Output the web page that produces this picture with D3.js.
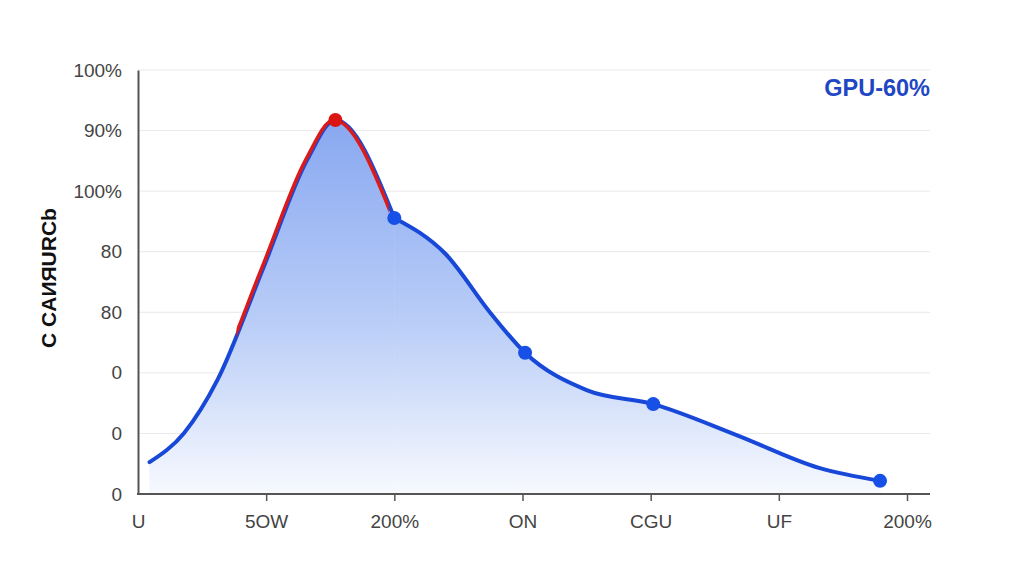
<!DOCTYPE html>
<html>
<head>
<meta charset="utf-8">
<script src="https://cdn.jsdelivr.net/npm/d3@7"></script>
<style>
  html, body { margin: 0; padding: 0; background: #fff; }
  #chart { width: 1024px; height: 585px; }
  text { font-family: "Liberation Sans", Arial, sans-serif; }
</style>
</head>
<body>
<div id="chart"></div>
<script>
// values (x in category steps, y in 0-100 axis units)
const xLabels = ["U", "5OW", "200%", "ON", "CGU", "UF", "200%"];
const yLabels = ["0", "0", "0", "80", "80", "100%", "90%", "100%"];
const curveX = [0.09, 0.36, 0.62, 0.98, 1.32, 1.54, 2.0, 2.4, 2.75, 3.02, 3.5, 4.02, 4.67, 5.32, 5.79];
const curveY = [7.5, 14.4, 26.9, 53.5, 78.8, 88.2, 65.1, 56.6, 42.7, 33.3, 24.5, 21.2, 13.9, 6.1, 3.1];
const markerIdx = [6, 9, 11, 14];
const peakIdx = 5;
const breakIdx = 6; // curve has a corner at this marker
const highlightRange = [0.78, 2.0];
const yTitle = "C CAИЯURCb";
const badge = "GPU-60%";

function draw() {
  d3.select("#chart").selectAll("*").remove();
  const W = 1024, H = 585;
  const m = { left: 138, right: 94, top: 70, bottom: 91 };

  const svg = d3.select("#chart").append("svg")
    .attr("width", W).attr("height", H);

  const x = d3.scaleLinear().domain([0, 6]).range([m.left, 907]);
  const y = d3.scaleLinear().domain([0, 100]).range([H - m.bottom, m.top]);

  const pts = curveX.map((v, i) => ({ x: v, y: curveY[i] }));
  const partA = pts.slice(0, breakIdx + 1);
  const partB = pts.slice(breakIdx);

  const defs = svg.append("defs");
  const grad = defs.append("linearGradient")
    .attr("id", "fillGrad").attr("x1", 0).attr("x2", 0)
    .attr("gradientUnits", "userSpaceOnUse")
    .attr("y1", y(90)).attr("y2", y(0));
  grad.append("stop").attr("offset", "0%").attr("stop-color", "#86a6f0");
  grad.append("stop").attr("offset", "55%").attr("stop-color", "#b9cdf7");
  grad.append("stop").attr("offset", "100%").attr("stop-color", "#f7f9fe");

  defs.append("clipPath").attr("id", "redClip")
    .append("rect")
    .attr("x", x(highlightRange[0])).attr("y", 0)
    .attr("width", x(highlightRange[1]) - x(highlightRange[0]) - 4)
    .attr("height", H);

  // gridlines
  const yTicks = d3.range(yLabels.length).map(i => i * 100 / (yLabels.length - 1));
  svg.append("g").selectAll("line")
    .data(yTicks)
    .join("line")
    .attr("x1", m.left).attr("x2", 930)
    .attr("y1", d => y(d)).attr("y2", d => y(d))
    .attr("stroke", "#e9e9e9").attr("stroke-width", 1);

  const curve = d3.curveMonotoneX;

  // area (two pieces so the corner at the break marker stays)
  const area = d3.area().curve(curve)
    .x(d => x(d.x)).y0(y(0)).y1(d => y(d.y));
  [partA, partB].forEach(part => {
    svg.append("path").datum(part)
      .attr("d", area).attr("fill", "url(#fillGrad)")
      .attr("stroke", "url(#fillGrad)").attr("stroke-width", 0.6);
  });

  const line = d3.line().curve(curve)
    .x(d => x(d.x)).y(d => y(d.y));

  [partA, partB].forEach(part => {
    svg.append("path").datum(part)
      .attr("d", line).attr("fill", "none")
      .attr("stroke", "#1848d8").attr("stroke-width", 4)
      .attr("stroke-linecap", "round");
  });

  svg.append("path").datum(partA)
    .attr("d", line).attr("fill", "none")
    .attr("transform", "translate(-1.5,0)")
    .attr("clip-path", "url(#redClip)")
    .attr("stroke", "#db1a1a").attr("stroke-width", 3.5);

  // markers
  svg.append("g").selectAll("circle")
    .data(markerIdx.map(i => pts[i]))
    .join("circle")
    .attr("cx", d => x(d.x)).attr("cy", d => y(d.y))
    .attr("r", 7).attr("fill", "#1650e6");

  svg.append("circle")
    .attr("cx", x(pts[peakIdx].x)).attr("cy", y(pts[peakIdx].y))
    .attr("r", 7).attr("fill", "#dc1414");

  // axes
  const yAxis = d3.axisLeft(y).tickValues(yTicks)
    .tickFormat((d, i) => yLabels[i]).tickSize(0).tickPadding(16);
  const gy = svg.append("g").attr("transform", `translate(${m.left},0)`).call(yAxis);
  gy.select(".domain").attr("stroke", "#555").attr("stroke-width", 2);
  gy.selectAll("text").attr("font-size", 19).attr("fill", "#444");

  const xAxis = d3.axisBottom(x).tickValues(d3.range(7))
    .tickFormat((d, i) => xLabels[i]).tickSize(7).tickSizeOuter(0).tickPadding(14);
  const gx = svg.append("g").attr("transform", `translate(0,${y(0)})`).call(xAxis);
  gx.select(".domain").attr("stroke", "#555").attr("stroke-width", 2)
    .attr("d", `M${m.left - 1},0H930`);
  gx.selectAll(".tick line").attr("stroke", "#555").attr("stroke-width", 1.5);
  gx.selectAll(".tick").filter(d => d === 0).select("line").remove();
  gx.selectAll("text").attr("font-size", 19).attr("fill", "#444");

  // y title
  svg.append("text")
    .attr("transform", `translate(56,${278}) rotate(-90)`)
    .attr("text-anchor", "middle")
    .attr("font-size", 21).attr("font-weight", 600).attr("fill", "#111")
    .text(yTitle);

  // badge
  svg.append("text")
    .attr("x", 930).attr("y", 96)
    .attr("text-anchor", "end")
    .attr("font-size", 23.5).attr("font-weight", 700).attr("fill", "#1f47c4")
    .text(badge);
}

draw();
</script>
</body>
</html>
